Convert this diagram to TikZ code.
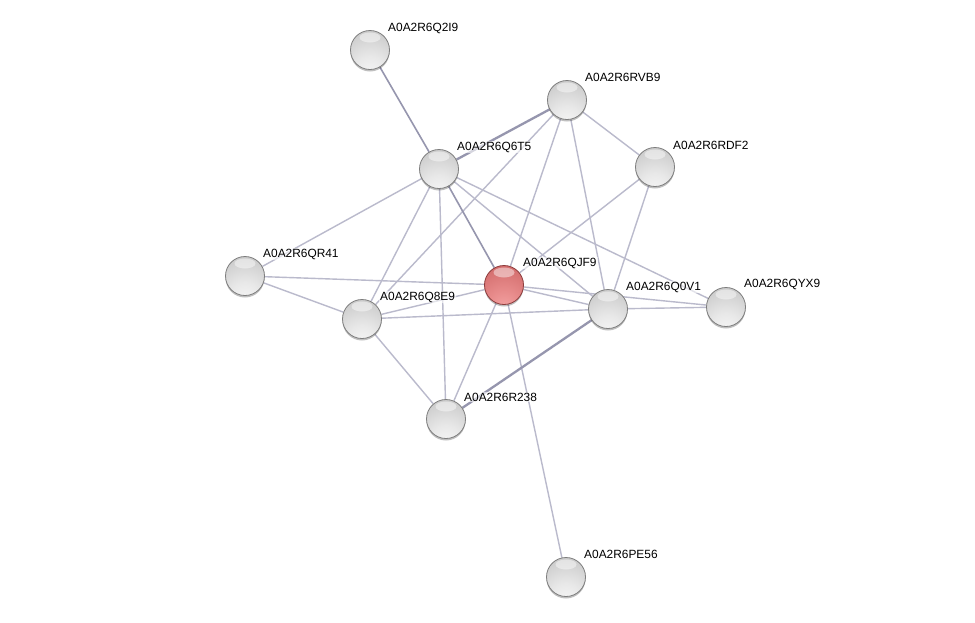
\documentclass[tikz,border=0pt]{standalone}
\usepackage{fontspec}
\setmainfont{Liberation Sans}
\usetikzlibrary{backgrounds,shadows,calc}
\definecolor{g0}{RGB}{248,248,248}
\definecolor{g1}{RGB}{232,232,232}
\definecolor{g2}{RGB}{202,202,202}
\definecolor{g3}{RGB}{180,180,180}
\definecolor{g4}{RGB}{168,168,168}
\definecolor{r0}{RGB}{246,168,168}
\definecolor{r1}{RGB}{232,140,140}
\definecolor{r2}{RGB}{210,108,108}
\definecolor{r3}{RGB}{194,90,90}
\definecolor{r4}{RGB}{180,78,78}
\pgfdeclareradialshading{graysph}{\pgfpoint{0bp}{-35bp}}{%
  color(0bp)=(g0); color(20bp)=(g1); color(45bp)=(g2); color(70bp)=(g3); color(100bp)=(g4)}
\pgfdeclareradialshading{redsph}{\pgfpoint{0bp}{-35bp}}{%
  color(0bp)=(r0); color(20bp)=(r1); color(45bp)=(r2); color(70bp)=(r3); color(100bp)=(r4)}
\definecolor{edgec}{RGB}{186,186,204}
\definecolor{edged}{RGB}{150,150,174}
\definecolor{outl}{RGB}{125,125,125}
\definecolor{outr}{RGB}{140,60,60}
\tikzset{
  sph/.style={circle, minimum size=39pt, inner sep=0pt, draw=outl, line width=0.8pt,
    shade, shading=graysph,
    drop shadow={shadow xshift=0pt, shadow yshift=-2pt, opacity=0.25, fill=black},
    path picture={\fill[white, opacity=0.45]
      ([yshift=12.5pt]path picture bounding box.center) ellipse (10.5pt and 5pt);}},
  redball/.style={sph, shading=redsph, draw=outr},
  lbl/.style={anchor=west, inner sep=1pt, fill=white, fill opacity=0.6, text opacity=1,
    font=\fontsize{11.9pt}{13pt}\selectfont, text=black},
  edge/.style={draw=edgec, line width=1.4pt},
  edgedark/.style={draw=edged, line width=1.6pt},
  edgethick/.style={draw=edged, line width=2.3pt},
}
\begin{document}
\begin{tikzpicture}[x=1pt,y=-1pt]
\useasboundingbox (0,0) rectangle (975,622);
% nodes
\node[sph] (q2i9) at (370,50) {};
\node[sph] (rvb9) at (567,100) {};
\node[sph] (rdf2) at (655,167) {};
\node[sph] (q6t5) at (439,169) {};
\node[sph] (qr41) at (245,276) {};
\node[redball] (qjf9) at (504,285) {};
\node[sph] (q0v1) at (608,309) {};
\node[sph] (qyx9) at (726,307) {};
\node[sph] (q8e9) at (362,319) {};
\node[sph] (r238) at (446,419) {};
\node[sph] (pe56) at (566,577) {};
% edges
\begin{pgfonlayer}{background}
\fill[white] (0,0) rectangle (975,622);
\draw[edgedark] (q2i9) -- (q6t5);
\draw[edgethick] (q6t5) -- (rvb9);
\draw[edge] (rvb9) -- (rdf2);
\draw[edge] (rvb9) -- (q8e9);
\draw[edge] (rvb9) -- (qjf9);
\draw[edge] (rvb9) -- (q0v1);
\draw[edge] (rdf2) -- (qjf9);
\draw[edge] (rdf2) -- (q0v1);
\draw[edge] (q6t5) -- (qr41);
\draw[edge] (q6t5) -- (q8e9);
\draw[edge] (q6t5) -- (r238);
\draw[edgedark] (q6t5) -- (qjf9);
\draw[edge] (q6t5) -- (q0v1);
\draw[edge] (q6t5) -- (qyx9);
\draw[edge] (qr41) -- (qjf9);
\draw[edge] (qr41) -- (q8e9);
\draw[edge] (q8e9) -- (qjf9);
\draw[edge] (q8e9) -- (q0v1);
\draw[edge] (q8e9) -- (r238);
\draw[edge] (qjf9) -- (r238);
\draw[edge] (qjf9) -- (pe56);
\draw[edge] (qjf9) -- (q0v1);
\draw[edge] (qjf9) -- (qyx9);
\draw[edgethick] (q0v1) -- (r238);
\draw[edge] (q0v1) -- (qyx9);
\end{pgfonlayer}
% labels
\node[lbl] (lq2i9) at ($(q2i9)+(17,-22)$) {A0A2R6Q2I9};
\node[lbl] (lrvb9) at ($(rvb9)+(17,-23)$) {A0A2R6RVB9};
\node[lbl] (lrdf2) at ($(rdf2)+(17,-22)$) {A0A2R6RDF2};
\node[lbl] (lq6t5) at ($(q6t5)+(17,-22)$) {A0A2R6Q6T5};
\node[lbl] (lqr41) at ($(qr41)+(17,-22)$) {A0A2R6QR41};
\node[lbl] (lqjf9) at ($(qjf9)+(18,-22)$) {A0A2R6QJF9};
\node[lbl] (lq0v1) at ($(q0v1)+(17,-22)$) {A0A2R6Q0V1};
\node[lbl] (lqyx9) at ($(qyx9)+(17,-23)$) {A0A2R6QYX9};
\node[lbl] (lq8e9) at ($(q8e9)+(17,-22)$) {A0A2R6Q8E9};
\node[lbl] (lr238) at ($(r238)+(17,-22)$) {A0A2R6R238};
\node[lbl] (lpe56) at ($(pe56)+(17,-23)$) {A0A2R6PE56};
\end{tikzpicture}
\end{document}
